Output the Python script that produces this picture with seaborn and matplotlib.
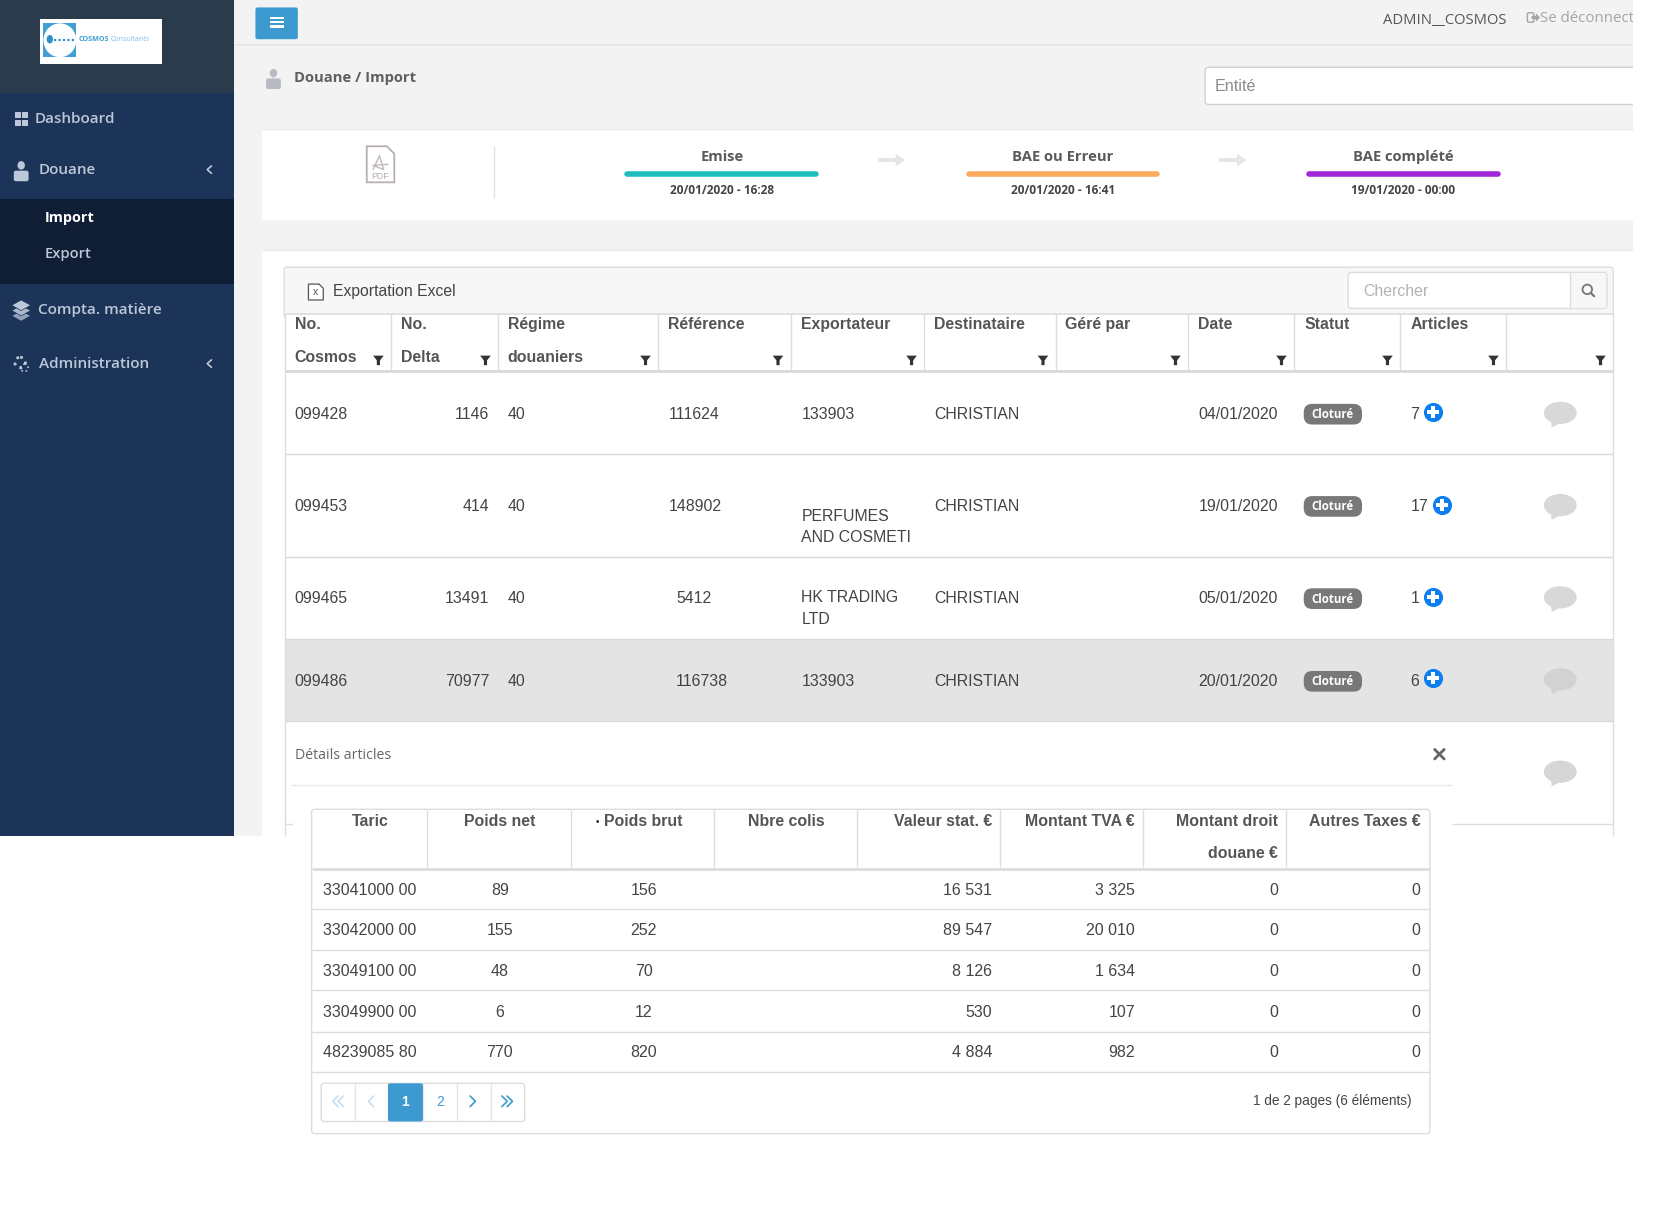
import matplotlib
matplotlib.use('Agg')
import matplotlib.pyplot as plt
from matplotlib.patches import Rectangle, FancyBboxPatch, Ellipse, Polygon
import pandas as pd
import seaborn as sns

# table values
cosmos_no = ['099428', '099453', '099465', '099486']
delta_no = ['1146', '414', '13491', '70977']
regime = ['40', '40', '40', '40']
reference = ['111624', '148902', '5412', '116738']
exportateur = ['133903', 'PERFUMES\nAND COSMETI', 'HK TRADING\nLTD', '133903']
destinataire = ['CHRISTIAN', 'CHRISTIAN', 'CHRISTIAN', 'CHRISTIAN']
dates = ['04/01/2020', '19/01/2020', '05/01/2020', '20/01/2020']
articles = ['7', '17', '1', '6']

taric = ['33041000 00', '33042000 00', '33049100 00', '33049900 00', '48239085 80']
poids_net = ['89', '155', '48', '6', '770']
poids_brut = ['156', '252', '70', '12', '820']
valeur_stat = ['16 531', '89 547', '8 126', '530', '4 884']
montant_tva = ['3 325', '20 010', '1 634', '107', '982']
montant_droit = ['0', '0', '0', '0', '0']
autres_taxes = ['0', '0', '0', '0', '0']

step_names = ['Emise', 'BAE ou Erreur', 'BAE complété']
step_dates = ['20/01/2020 - 16:28', '20/01/2020 - 16:41', '19/01/2020 - 00:00']
step_colors = ['#1fbdbd', '#fbab5b', '#a026d8']

SANS = 'Liberation Sans'
OPEN = 'Open Sans'
GREY = '#555555'
BLUE = '#3d9ad1'

sns.set_theme(style='white')
fig = plt.figure(figsize=(16.62, 12.12), dpi=100, facecolor='white')
ax = fig.add_axes([0, 0, 1, 1])
ax.set_axis_off()


def rect(x0, y0, x1, y1, color, ec='none', lw=0, z=1):
    ax.add_patch(Rectangle((x0, y0), x1 - x0, y1 - y0, fc=color, ec=ec, lw=lw, zorder=z))


def rrect(x0, y0, x1, y1, color, ec='none', lw=0, r=3, z=1):
    ax.add_patch(FancyBboxPatch((x0 + r, y0 + r), x1 - x0 - 2 * r, y1 - y0 - 2 * r,
                                boxstyle=f'round,pad={r},rounding_size={r}',
                                fc=color, ec=ec, lw=lw, zorder=z))


def hline(x0, x1, y, color='#dddddd', lw=1.0, z=3):
    ax.plot([x0, x1], [y - 0.6, y - 0.6], color=color, lw=lw, zorder=z, solid_capstyle='butt')


def vline(x, y0, y1, color='#dddddd', lw=1.0, z=3):
    ax.plot([x, x], [y0, y1], color=color, lw=lw, zorder=z, solid_capstyle='butt')


def label(x, y, s, size=11.4, color='#444444', ha='left', weight='normal', family=SANS, z=6, spacing=1.55):
    # text sits about one pixel too high with va=center
    return ax.text(x, y + 0.8, s, fontsize=size, color=color, ha=ha, va='center',
                   fontweight=weight, family=family, zorder=z, linespacing=spacing)


def funnel(x, y, color='#333333'):
    ax.add_patch(Polygon([(x - 5, y - 4), (x + 5, y - 4), (x + 1.5, y + 0.5), (x + 1.5, y + 5),
                          (x - 1.5, y + 5), (x - 1.5, y + 0.5)], fc=color, ec='none', zorder=6))


def bubble(x, y, color='#d6d6d6'):
    ax.add_patch(Ellipse((x, y), 31, 21, fc=color, ec='none', zorder=5))
    ax.add_patch(Polygon([(x - 9, y + 5), (x + 1, y + 9), (x - 8, y + 14)], fc=color, ec='none', zorder=5))


def person(x, y, color):
    ax.add_patch(Ellipse((x, y - 6), 7, 8, fc=color, ec='none', zorder=6))
    rrect(x - 7, y - 1, x + 7, y + 9, color, r=2, z=6)


# page blocks
rect(221, 0, 1541, 789, '#f3f3f3')
rect(0, 0, 221, 789, '#1b3458', z=2)
rect(0, 0, 221, 88, '#2a3b4c', z=2)
rect(0, 188, 221, 268, '#0f1e35', z=2)
hline(221, 1541, 43, '#e6e6e6', 1.2)

# logo
rect(38, 18, 153, 60, 'white', z=3)
rect(41, 22, 72, 54, '#3f9fd6', z=4)
ax.add_patch(Ellipse((56.5, 38), 31, 32, fc='white', ec='none', zorder=5))
ax.add_patch(Ellipse((47, 37), 6, 8, fc='#2f8fc7', ec='none', zorder=6))
ax.plot([51, 72], [37.5, 37.5], color='#2f8fc7', lw=1.6, ls=(0, (1, 1)), zorder=6)
label(74, 36, 'COSMOS', 5.2, '#3f9fd6', weight='bold', family=OPEN)
label(104, 36, 'Consultants', 5.0, '#7cc0e6', family=OPEN)

# sidebar menu
menu_color = '#bcc8d8'
label(33, 111, 'Dashboard', 11.0, menu_color, weight=600, family=OPEN)
label(36, 160, 'Douane', 11.0, menu_color, weight=600, family=OPEN)
label(42, 204.5, 'Import', 10.4, 'white', weight='bold', family=OPEN)
label(42, 238.5, 'Export', 10.6, menu_color, weight=600, family=OPEN)
label(36, 291.5, 'Compta. matière', 11.0, menu_color, weight=600, family=OPEN)
label(37, 343, 'Administration', 11.0, menu_color, weight=600, family=OPEN)
for cy in (160, 343):
    ax.plot([199.5, 195.5, 199.5], [cy - 3.5, cy, cy + 3.5], color=menu_color, lw=1.2, zorder=6)
for dx, dy in ((14, 106), (21, 106), (14, 113), (21, 113)):
    rect(dx, dy, dx + 5.5, dy + 5.5, menu_color, z=5)
person(20, 162, menu_color)
for dy, c in ((298, '#8fa2b8'), (293, '#a9b8ca'), (288, menu_color)):
    ax.add_patch(Polygon([(11, dy), (20, dy - 5), (29, dy), (20, dy + 5)], fc=c, ec='#1b3458', lw=0.5, zorder=6))
ax.add_patch(Ellipse((19, 342), 10, 10, fc='none', ec=menu_color, lw=2, ls=':', zorder=6))
ax.add_patch(Ellipse((23, 347), 7, 7, fc='none', ec=menu_color, lw=1.2, ls=':', zorder=6))

# top bar
rrect(241, 7, 281, 37, BLUE, r=2, z=4)
for hy in (17, 21, 25):
    rect(255, hy - 1, 268, hy + 1, 'white', z=5)
label(1305, 19, 'ADMIN__COSMOS', 10.6, GREY, weight=500, family=OPEN)
logout = label(1453, 16.5, 'Se déconnect', 10.8, '#a5a5a5', family=OPEN)
logout.set_clip_path(Rectangle((1300, 0), 241, 40, transform=ax.transData))
logout.set_clip_on(True)
rrect(1441, 12, 1447, 21, 'none', ec='#a5a5a5', lw=1, r=1.5, z=6)
ax.add_patch(Polygon([(1445, 15), (1449, 15), (1449, 12.5), (1453, 16.5), (1449, 20.5), (1449, 18), (1445, 18)],
                     fc='#a5a5a5', ec='none', zorder=6))

# breadcrumb and entity box
person(258, 75, '#b8bcc2')
label(277, 73, 'Douane / Import', 10.6, '#5f5f5f', weight='bold', family=OPEN)
rrect(1137, 63.5, 1560, 98.5, 'white', ec='#cfcfcf', lw=0.9, r=3, z=3)
rect(1541, 0, 1568, 1143, 'white', z=4)
label(1146, 80.5, 'Entité', 11.6, '#8a8a8a')

# status card
rect(247, 122, 1541, 208, 'white')
hline(247, 1541, 122, '#e8e8e8', 0.8)
vline(466, 138, 187, '#e2e2e2')
ax.add_patch(Polygon([(346, 138), (365, 138), (372, 145), (372, 172), (346, 172)],
                     fc='white', ec='#b9aeae', lw=1.3, zorder=4))
ax.plot([352, 358, 362, 352, 366], [160, 147, 160, 156, 155], color='#c4b8b8', lw=1, zorder=5)
label(359, 166, 'PDF', 6.4, '#b9aeae', ha='center')

step_centers = [681, 1003, 1324]
for name, when, col, cx in zip(step_names, step_dates, step_colors, step_centers):
    label(cx, 147, name, 10.6, '#5a5a5a', ha='center', weight='bold', family=OPEN)
    # progress bar of the step
    sns.lineplot(x=[cx - 89, cx + 89], y=[164.5, 164.5], color=col, linewidth=4.0, ax=ax,
                 solid_capstyle='round', zorder=5, legend=False, errorbar=None)
    label(cx, 178.5, when, 8.6, '#444444', ha='center', weight='bold', family=OPEN)
for ax_x in (841, 1163):
    rect(ax_x - 13, 149.5, ax_x + 5, 153, '#e6e6e6', z=4)
    ax.add_patch(Polygon([(ax_x + 4, 145), (ax_x + 13, 151), (ax_x + 4, 157)], fc='#e6e6e6', ec='none', zorder=4))

# main card and panel
rect(247, 236, 1541, 789, 'white')
hline(247, 1541, 236, '#e8e8e8', 0.8)
rrect(268, 252, 1522, 300, '#f7f7f7', ec='#dddddd', lw=1, r=3, z=2)
rect(269, 296, 1522, 789, 'white', z=2)
vline(268.5, 296, 789)
vline(1522, 296, 789)
hline(268, 1522, 296.5, '#dddddd', 1.2)
ax.add_patch(Polygon([(291, 268), (301, 268), (305, 272), (305, 283), (291, 283)], fc='white', ec='#555555', lw=0.9, zorder=5))
label(295, 274.5, 'x', 7.5, '#555555')
label(314, 274.5, 'Exportation Excel', 11.3, '#444444')
rrect(1272, 257, 1516, 291, 'white', ec='#dddddd', lw=1, r=3, z=3)
rect(1481, 258, 1515, 290, '#f7f7f7', z=3)
vline(1481, 257, 291, '#dddddd', z=4)
label(1286, 274, 'Chercher', 11.4, '#b3b3b3')
ax.add_patch(Ellipse((1497.5, 273), 9, 9, fc='none', ec='#777777', lw=1.3, zorder=6))
ax.plot([1501, 1504], [276.5, 279.5], color='#777777', lw=1.6, zorder=6)

# main table header
col_edges = [269, 369, 470, 621, 746, 872, 996, 1121, 1221, 1321, 1421, 1522]
head_first = ['No.', 'No.', 'Régime', 'Référence', 'Exportateur', 'Destinataire', 'Géré par', 'Date', 'Statut', 'Articles', '']
head_second = ['Cosmos', 'Delta', 'douaniers', '', '', '', '', '', '', '', '']
for i in range(len(head_first)):
    text_x = col_edges[i] + 9
    label(text_x + (1 if i in (4, 8, 9) else 0), 305.5, head_first[i], 11.4, GREY, weight='bold')
    label(text_x, 336, head_second[i], 11.4, GREY, weight='bold')
    funnel(col_edges[i + 1] - 12, 339.5)
for xe in col_edges[1:-1]:
    vline(xe, 296, 350)
hline(269, 1522, 351, '#d9d9d9', 2.0)

# main table rows
rect(269, 602.5, 1522, 680.5, '#e4e4e4', z=2)
row_y = [390, 477, 564, 642]
for ly in (429, 526, 603, 681):
    hline(269, 1522, ly, '#d9d9d9', 1.0)
ref_x = [630.5, 630.5, 638.5, 638]
exp_y = [390, 496.5, 573.5, 642]
delta_r = [461, 462, 461, 461.5]
for i, y in enumerate(row_y):
    label(278, y, cosmos_no[i])
    label(delta_r[i], y, delta_no[i], ha='right')
    label(479, y, regime[i])
    label(ref_x[i], y, reference[i])
    label(756, exp_y[i], exportateur[i])
    label(881.5, y, destinataire[i])
    label(1130.5, y, dates[i])
    label(1330.5, y, articles[i])
    rrect(1230, y - 9, 1285, y + 10.5, '#787878', r=8, z=4)
    label(1257.5, y + 0.5, 'Cloturé', 8.3, 'white', ha='center', weight='bold', family=OPEN)

# plus buttons on the article counts
plus_x = [1352, 1360, 1352, 1352]
plus_y = [388.5, 476, 563, 640]
plus_df = pd.DataFrame({'x': plus_x, 'y': plus_y})
sns.scatterplot(data=plus_df, x='x', y='y', s=190, color='#0d7ef0', linewidth=0, ax=ax, zorder=7, legend=False)
sns.scatterplot(data=plus_df, x='x', y='y', s=85, marker='P', color='white', linewidth=0, ax=ax, zorder=8, legend=False)

for by, c in zip((389.5, 476.5, 563.5, 641), ('#d8d8d8', '#d8d8d8', '#d8d8d8', '#d2d2d2')):
    bubble(1472, by, c)
bubble(1472, 728)

# details block
label(278, 711.5, 'Détails articles', 10.2, '#666666', family=OPEN)
ax.plot([1353.5, 1362.5], [707, 716], color='#666666', lw=2, zorder=6)
ax.plot([1353.5, 1362.5], [716, 707], color='#666666', lw=2, zorder=6)
hline(275, 1370, 741.5, '#e8e8e8')
hline(269, 276, 777.5, '#dddddd')
hline(1370, 1522, 777.5, '#dddddd')
rect(276, 742, 1370, 789, 'white', z=4)

# article sub table
rrect(294, 763.5, 1349, 1069.5, 'white', ec='#dddddd', lw=1, r=3, z=5)
sub_edges = [294, 403, 539, 674, 809, 943, 1078, 1213, 1349]
for xe in sub_edges[1:-1]:
    vline(xe, 764, 818, '#dddddd', z=6)
hline(294, 1349, 820, '#dddddd', 2.0, z=6)
sub_head_center = ['Taric', 'Poids net', 'Poids brut', 'Nbre colis']
for name, cx in zip(sub_head_center, [349, 471, 607, 742]):
    label(cx, 774, name, 11.4, GREY, ha='center', weight='bold', z=7)
label(563.5, 774.5, '•', 7, '#222222', ha='center', z=7)
sub_head_right = ['Valeur stat. €', 'Montant TVA €', 'Montant droit', 'Autres Taxes €']
for name, rx in zip(sub_head_right, [936, 1071, 1206, 1340]):
    label(rx, 774, name, 11.4, GREY, ha='right', weight='bold', z=7)
label(1206, 804.5, 'douane €', 11.4, GREY, ha='right', weight='bold', z=7)

sub_y = [839, 877, 915.5, 954, 992.5]
for ly in (858, 897, 935, 974, 1012):
    hline(294, 1349, ly, '#dddddd', 1.0, z=6)
for i, y in enumerate(sub_y):
    label(305, y, taric[i], 11.5, z=7)
    label(471.5, y, poids_net[i], 11.5, ha='center', z=7)
    label(607.5, y, poids_brut[i], 11.5, ha='center', z=7)
    label(936, y, valeur_stat[i], 11.5, ha='right', z=7)
    label(1071, y, montant_tva[i], 11.5, ha='right', z=7)
    label(1206, y, montant_droit[i], 11.5, ha='right', z=7)
    label(1340, y, autres_taxes[i], 11.5, ha='right', z=7)

# pagination
rrect(303, 1022, 495, 1058, 'white', ec='#dddddd', lw=1, r=3, z=6)
for xe in (335, 399, 431, 463):
    vline(xe, 1022, 1058, '#e6e6e6', z=7)
rrect(366, 1022, 399, 1058, BLUE, r=2, z=7)
label(382.5, 1039, '1', 10.0, 'white', ha='center', weight='bold', z=8)
label(415, 1039, '2', 10.0, BLUE, ha='center', z=8)
for cx, col, glyphs in ((319, '#c5dff0', 2), (350, '#c5dff0', 1), (446, BLUE, 1), (478.5, BLUE, 2)):
    sign = -1 if cx < 400 else 1
    for k in range(glyphs):
        off = (k - (glyphs - 1) / 2) * 5
        ax.plot([cx + off - sign * 2.5, cx + off + sign * 2.5, cx + off - sign * 2.5],
                [1034, 1039, 1044], color=col, lw=1.2, zorder=8)
label(1332, 1038, '1 de 2 pages (6 éléments)', 9.8, '#444444', ha='right', z=7)

# pixel frame of the picture, set after seaborn has drawn
ax.set_xlim(0, 1568)
ax.set_ylim(1143.4, 0)
ax.set_xlabel('')
ax.set_ylabel('')
fig.savefig('out.png', dpi=100)
